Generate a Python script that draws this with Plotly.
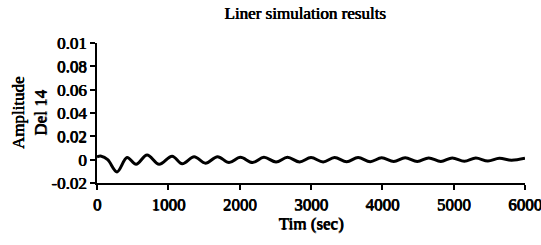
import plotly.graph_objects as go

time_s = [0, 60, 150, 281, 421, 548, 702, 871, 1053, 1194, 1362, 1520, 1690, 1850,
          2010, 2180, 2340, 2510, 2670, 2840, 3000, 3170, 3330, 3500, 3660, 3830,
          3990, 4160, 4320, 4490, 4650, 4820, 4980, 5150, 5310, 5480, 5640, 5810, 6000]
amplitude = [0.0025, 0.003, 0.0, -0.0105, 0.0018, -0.004, 0.004, -0.004, 0.003, -0.0035,
             0.0025, -0.003, 0.0025, -0.0025, 0.002, -0.0025, 0.002, -0.002, 0.002,
             -0.002, 0.0018, -0.002, 0.0018, -0.0018, 0.0018, -0.0018, 0.0016, -0.0016,
             0.0016, -0.0016, 0.0015, -0.0015, 0.0015, -0.0014, 0.0014, -0.0012, 0.0012,
             -0.0005, 0.0012]

x_ticks = [0, 1000, 2000, 3000, 4000, 5000, 6000]
y_ticks = [-0.02, 0, 0.02, 0.04, 0.06, 0.08, 0.1]
y_tick_text = ["-0.02", "0", "0.02", "0.04", "0.06", "0.08", "0.01"]

FONT = "'Liberation Serif', 'Times New Roman', Times, serif"
SHADOW = "0.7px 0 0 black, 0.3px 0.3px 0 black"

def f(size):
    return dict(family=FONT, size=size, color="black", shadow=SHADOW)

fig = go.Figure()
fig.add_trace(go.Scatter(x=time_s, y=amplitude, mode="lines",
                         line=dict(color="black", width=3, shape="spline", smoothing=1.0),
                         showlegend=False))

fig.update_layout(
    width=541, height=245,
    margin=dict(l=97, r=16, t=43, b=62),
    paper_bgcolor="white", plot_bgcolor="white",
    font=dict(family=FONT, color="black", size=17),
    title=dict(text="Liner simulation results", x=305/541, xanchor="center",
               y=1 - 13/245, yanchor="middle", font=f(17)),
)
fig.update_xaxes(range=[0, 6000], tickvals=x_ticks,
                 ticks="outside", ticklen=5, ticklabeloverflow="allow",
                 tickwidth=2, tickcolor="black", showline=True, linewidth=2,
                 linecolor="black", showgrid=False, zeroline=False, automargin=False,
                 tickfont=f(17),
                 title=dict(text="Tim (sec)", standoff=2, font=f(17)))
fig.update_yaxes(range=[-0.02, 0.1], tickvals=y_ticks, ticktext=y_tick_text,
                 ticks="outside", ticklen=5, tickwidth=2, tickcolor="black",
                 showline=True, linewidth=2, linecolor="black", showgrid=False,
                 zeroline=False, automargin=False,
                 tickfont=f(17),
                 title=dict(text="Amplitude<br>Del 14", standoff=0, font=f(17)))

fig.write_html("out.html", config={"displayModeBar": False},
               post_script="document.body.style.margin='0';document.body.style.padding='0';")
